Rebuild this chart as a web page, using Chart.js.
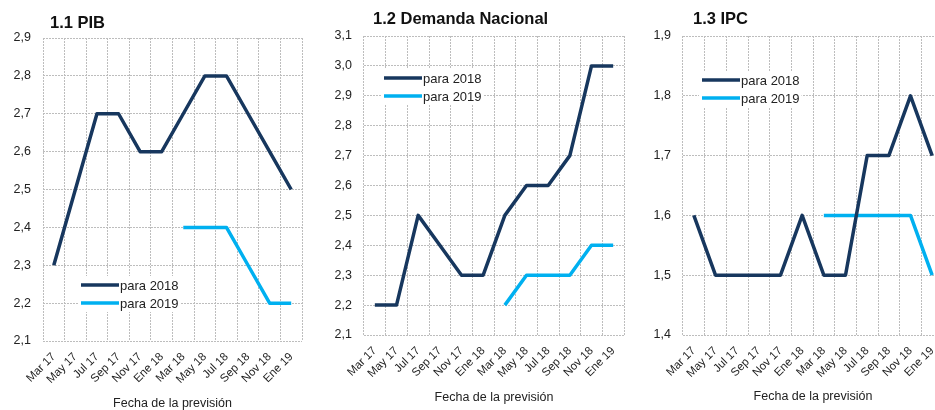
<!DOCTYPE html>
<html>
<head>
<meta charset="utf-8">
<script src="https://cdn.jsdelivr.net/npm/chart.js@4.4.1/dist/chart.umd.min.js"></script>
<style>
    body { margin: 0; width: 935px; height: 410px; overflow: hidden; background: #fff; position: relative; }
    .panel { position: absolute; top: 0; }
</style>
</head>
<body>
<div class="panel" style="left:0"><canvas id="pibChart" width="310" height="410"></canvas></div>
<div class="panel" style="left:310px"><canvas id="demandaChart" width="315" height="410"></canvas></div>
<div class="panel" style="left:625px"><canvas id="ipcChart" width="320" height="410"></canvas></div>
<script>
// Fechas de la previsión (eje X, común a los tres gráficos)
const fechas = ['Mar 17', 'May 17', 'Jul 17', 'Sep 17', 'Nov 17', 'Ene 18',
                'Mar 18', 'May 18', 'Jul 18', 'Sep 18', 'Nov 18', 'Ene 19'];

// 1.1 PIB
const pib2018 = [2.3, 2.5, 2.7, 2.7, 2.6, 2.6, 2.7, 2.8, 2.8, 2.7, 2.6, 2.5];
const pib2019 = [null, null, null, null, null, null, 2.4, 2.4, 2.4, 2.3, 2.2, 2.2];

// 1.2 Demanda Nacional
const demanda2018 = [2.2, 2.2, 2.5, 2.4, 2.3, 2.3, 2.5, 2.6, 2.6, 2.7, 3.0, 3.0];
const demanda2019 = [null, null, null, null, null, null, 2.2, 2.3, 2.3, 2.3, 2.4, 2.4];

// 1.3 IPC
const ipc2018 = [1.6, 1.5, 1.5, 1.5, 1.5, 1.6, 1.5, 1.5, 1.7, 1.7, 1.8, 1.7];
const ipc2019 = [null, null, null, null, null, null, 1.6, 1.6, 1.6, 1.6, 1.6, 1.5];

const etiquetas = ['para 2018', 'para 2019'];
const colores = ['#17375E', '#00B0F0'];

Chart.defaults.font.family = '"Liberation Sans", Arial, sans-serif';
Chart.defaults.color = '#222';

// Title and inner legend drawn inside each panel
const panelPlugin = {
    id: 'panel',
    afterDraw(chart, args, opts) {
        const ctx = chart.ctx;
        ctx.save();
        ctx.fillStyle = '#111';
        ctx.font = 'bold 16.5px "Liberation Sans", Arial, sans-serif';
        ctx.textBaseline = 'alphabetic';
        ctx.fillText(opts.title, opts.titleX, opts.titleY);

        ctx.font = '13px "Liberation Sans", Arial, sans-serif';
        const textW = Math.max(...chart.data.datasets.map(ds => ctx.measureText(ds.label).width));
        ctx.fillStyle = '#fff';
        ctx.fillRect(opts.legX - 3, opts.legY - 9, opts.lineLen + textW + 6, opts.gap + 18);
        chart.data.datasets.forEach((ds, i) => {
            const y = opts.legY + i * opts.gap;
            ctx.strokeStyle = ds.borderColor;
            ctx.lineWidth = 3.5;
            ctx.beginPath();
            ctx.moveTo(opts.legX, y);
            ctx.lineTo(opts.legX + opts.lineLen, y);
            ctx.stroke();
            ctx.fillStyle = '#222';
            ctx.textBaseline = 'middle';
            ctx.fillText(ds.label, opts.legX + opts.lineLen + 1, y + 1);
        });
        ctx.restore();
    }
};

function crearGrafico(id, serie2018, serie2019, cfg) {
    const ctx = document.getElementById(id).getContext('2d');
    return new Chart(ctx, {
        type: 'line',
        data: {
            labels: fechas,
            datasets: [serie2018, serie2019].map((serie, i) => ({
                label: etiquetas[i],
                data: serie,
                borderColor: colores[i],
                backgroundColor: colores[i],
                borderWidth: 3.5,
                pointRadius: 0,
                tension: 0,
                borderJoinStyle: 'round',
                spanGaps: false
            }))
        },
        options: {
            responsive: false,
            animation: false,
            layout: { padding: { top: cfg.top, right: cfg.right, bottom: 0, left: 0 } },
            plugins: {
                legend: { display: false },
                tooltip: { enabled: false },
                panel: cfg.panel
            },
            scales: {
                x: {
                    offset: true,
                    grid: { offset: true, color: '#bdbdbd', drawTicks: false },
                    border: { display: false, dash: [2, 1] },
                    ticks: { autoSkip: false, minRotation: 45, maxRotation: 45, padding: 9, font: { size: 11.5 }, color: '#222' },
                    title: { display: true, text: 'Fecha de la previsión', font: { size: 12.5, lineHeight: 1 }, color: '#222', padding: { top: 0, bottom: cfg.titlePad } },
                    afterFit: scale => {
                        scale.height = cfg.xHeight;
                        // rotated labels should not shrink the plot area
                        scale.paddingLeft = 0;
                        scale.paddingRight = 0;
                    }
                },
                y: {
                    min: cfg.min,
                    max: cfg.max,
                    grid: { color: '#bdbdbd', drawTicks: false },
                    border: { display: false, dash: [2, 1] },
                    ticks: {
                        stepSize: 0.1,
                        padding: 12,
                        font: { size: 12.5 },
                        color: '#222',
                        callback: v => v.toFixed(1).replace('.', ',')
                    },
                    afterFit: scale => { scale.width = cfg.yWidth; }
                }
            }
        },
        plugins: [panelPlugin]
    });
}

crearGrafico('pibChart', pib2018, pib2019, {
    min: 2.1, max: 2.9, top: 38, right: 8, yWidth: 43, xHeight: 69, titlePad: 0,
    panel: { title: '1.1 PIB', titleX: 50, titleY: 28, legX: 81, legY: 285, gap: 18, lineLen: 38 }
});

crearGrafico('demandaChart', demanda2018, demanda2019, {
    min: 2.1, max: 3.1, top: 36, right: 1, yWidth: 54, xHeight: 75, titlePad: 6,
    panel: { title: '1.2 Demanda Nacional', titleX: 63, titleY: 24, legX: 74, legY: 78, gap: 18, lineLen: 38 }
});

crearGrafico('ipcChart', ipc2018, ipc2019, {
    min: 1.4, max: 1.9, top: 36, right: 2, yWidth: 58, xHeight: 75, titlePad: 7,
    panel: { title: '1.3 IPC', titleX: 68, titleY: 24, legX: 77, legY: 80, gap: 18, lineLen: 38 }
});
</script>
</body>
</html>
